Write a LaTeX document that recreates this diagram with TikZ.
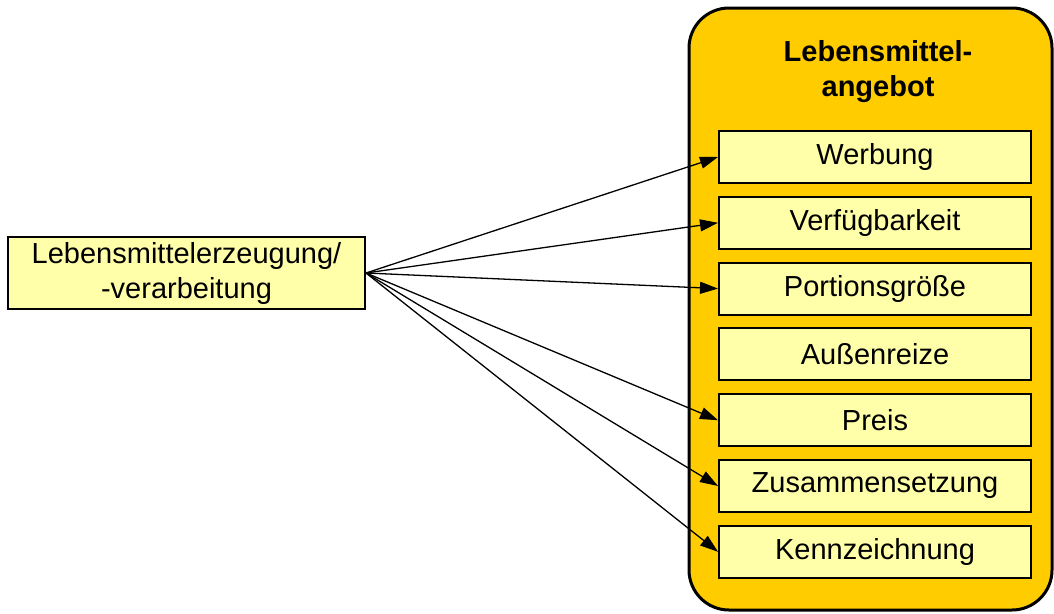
\documentclass[tikz,border=0pt]{standalone}
\usepackage{fontspec}
\setmainfont{Liberation Sans}
\usetikzlibrary{positioning,arrows.meta}
\definecolor{gold}{HTML}{FFCC00}
\definecolor{hellgelb}{HTML}{FFFFAA}

\begin{document}
\begin{tikzpicture}[x=1pt,y=-1pt,
    node distance =65.8pt ,on grid ,
    font=\fontsize{29}{35}\selectfont,
    feld/.style ={rectangle ,draw ,fill=hellgelb ,line width=2pt ,
      minimum width =312pt ,minimum height =52pt ,inner sep=0pt},
    rahmen/.style ={rectangle ,draw ,fill=gold ,line width=3pt ,
      rounded corners=40pt ,minimum width =363pt ,minimum height =602pt},
    pfeil/.style ={-{Triangle[length=18pt,width=12pt]} ,line width=1.3pt}
    ]
    \useasboundingbox (0,0) rectangle (1054,613);
    \node[rahmen] (angebot) at (870.5,309) {};
    \node[font=\fontsize{29}{35}\selectfont\bfseries,align=center] (titel) at (878,72) {Lebensmittel-\\angebot};
    \node[feld] (werbung) at (875,157) {Werbung};
    \node[feld] (verfueg) [below = of werbung] {Verfügbarkeit};
    \node[feld] (portion) [below = of verfueg] {Portionsgröße};
    \node[feld] (reize) [below = of portion] {Außenreize};
    \node[feld] (preis) [below = of reize] {Preis};
    \node[feld] (zusammen) [below = of preis] {Zusammensetzung};
    \node[feld] (kennz) [below = of zusammen] {Kennzeichnung};
    \node[feld,minimum width =357pt ,minimum height =72pt ,align=center] (quelle) at (186.5,273)
      {Lebensmittelerzeugung/\\-verarbeitung};
    % Pfeile
    \draw[pfeil] (quelle.east) -- (werbung.west);
    \draw[pfeil] (quelle.east) -- (verfueg.west);
    \draw[pfeil] (quelle.east) -- (portion.west);
    \draw[pfeil] (quelle.east) -- (preis.west);
    \draw[pfeil] (quelle.east) -- (zusammen.west);
    \draw[pfeil] (quelle.east) -- (kennz.west);
\end{tikzpicture}
\end{document}
